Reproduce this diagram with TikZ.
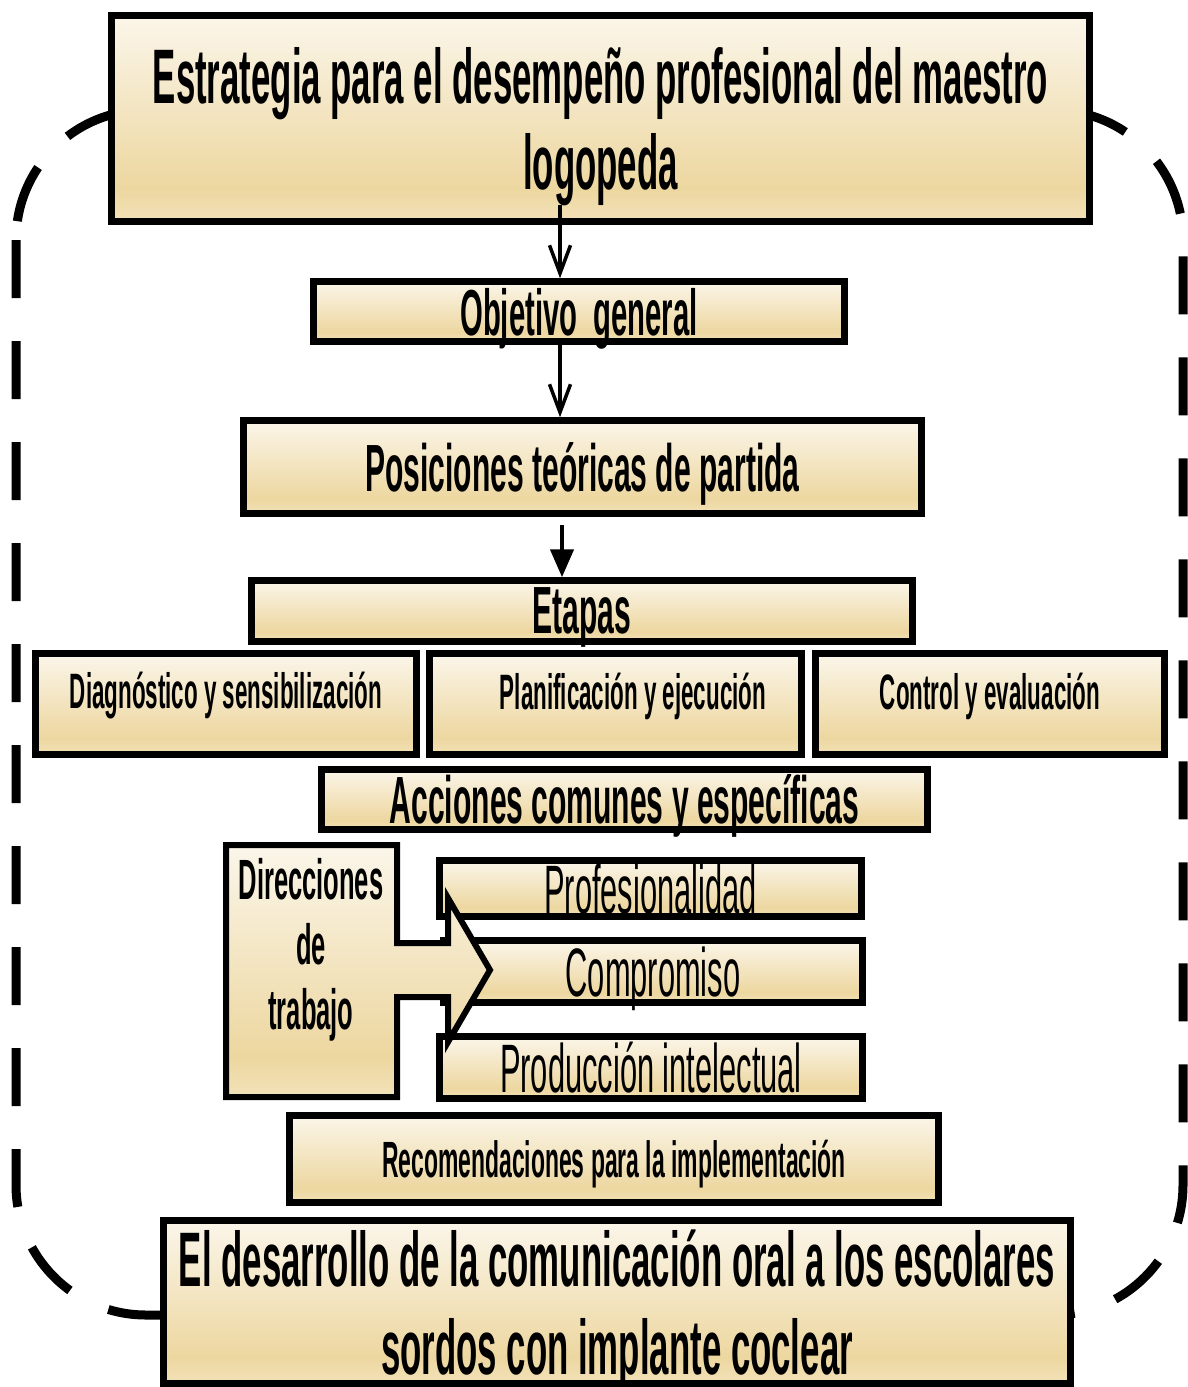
\documentclass[tikz,border=0pt]{standalone}
\usepackage{fontspec}
\setmainfont{Liberation Sans}[FakeStretch=0.45]
\usepackage{tikz}
\usetikzlibrary{arrows.meta}
\usepackage{xcolor}

\definecolor{tantop}{HTML}{FBF6EA}
\definecolor{tandark}{HTML}{EDD7A0}
\definecolor{tanlow}{HTML}{F2E2B9}
\pgfdeclareverticalshading{tanshade}{100bp}{color(0bp)=(tanlow); color(25bp)=(tanlow); color(33bp)=(tandark); color(75bp)=(tantop); color(100bp)=(tantop)}

\tikzset{
  box/.style={draw=black, line width=0.13cm, shade, shading=tanshade, inner sep=0pt, align=center, text depth=0pt},
  flow/.style={line width=0.07cm, -{Straight Barb[length=0.56cm,width=0.42cm]}},
  bigflow/.style={line width=0.09cm, -{Triangle[length=0.56cm,width=0.46cm]}},
  outerloop/.style={line width=0.18cm, dash pattern=on 1.16cm off 0.86cm, rounded corners=2.6cm}
}

\begin{document}
\begin{tikzpicture}
  \useasboundingbox (0,0) rectangle (23.76,-27.74);
  \draw[outerloop] (0.32,-2.2) rectangle (23.66,-26.3);

  \node[box, minimum width=19.56cm, minimum height=4.12cm, font=\fontsize{44}{49}\selectfont\bfseries] (title) at (12.01,-2.37) {Estrategia para el desempeño profesional del maestro\\logopeda};
  \node[box, minimum width=10.62cm, minimum height=1.2cm, font=\fontsize{37}{42}\selectfont\bfseries] (obj) at (11.58,-6.23) {Objetivo~~general};
  \node[box, minimum width=13.56cm, minimum height=1.86cm, font=\fontsize{38}{44}\selectfont\bfseries] (pos) at (11.65,-9.34) {Posiciones teóricas de partida};
  \node[box, minimum width=13.22cm, minimum height=1.22cm, font=\fontsize{38}{44}\selectfont\bfseries] (etapas) at (11.64,-12.22) {Etapas};
  \node[box, minimum width=7.62cm, minimum height=2.02cm,
    label={[yshift=0.16cm, font=\fontsize{28.3}{33}\selectfont\bfseries]center:Diagnóstico y sensibilización}] (diag) at (4.52,-14.08) {};
  \node[box, minimum width=7.44cm, minimum height=2.02cm,
    label={[xshift=0.35cm, yshift=0.16cm, font=\fontsize{28.3}{33}\selectfont\bfseries]center:Planificación y ejecución}] (plan) at (12.31,-14.08) {};
  \node[box, minimum width=6.98cm, minimum height=2.02cm,
    label={[yshift=0.16cm, font=\fontsize{28.3}{33}\selectfont\bfseries]center:Control y evaluación}] (ctrl) at (19.80,-14.08) {};
  \node[box, minimum width=12.12cm, minimum height=1.2cm, font=\fontsize{38}{44}\selectfont\bfseries] (acc) at (12.49,-15.99) {Acciones comunes y específicas};

  \node[box, minimum width=8.44cm, minimum height=1.12cm, font=\fontsize{39}{44}\selectfont] (prof) at (13.01,-17.77) {Profesionalidad};
  \node[box, minimum width=8.38cm, minimum height=1.24cm, font=\fontsize{39}{44}\selectfont] (comp) at (13.06,-19.43) {Compromiso};
  \node[box, minimum width=8.46cm, minimum height=1.24cm, font=\fontsize{39}{44}\selectfont] (prod) at (13.02,-21.35) {Producción intelectual};

  % callout with the arrow
  \draw[line width=0.12cm, shade, shading=tanshade, line join=miter]
    (4.52,-16.90) -- (7.94,-16.90) -- (7.94,-18.86) -- (8.96,-18.86) -- (8.96,-17.96)
    -- (9.80,-19.40) -- (8.96,-20.84) -- (8.96,-19.94) -- (7.94,-19.94) -- (7.94,-21.94)
    -- (4.52,-21.94) -- cycle;
  \node[align=center, font=\fontsize{32.3}{37}\selectfont\bfseries] (dirs) at (6.22,-19.0) {Direcciones\\de\\trabajo};

  \node[box, minimum width=12.98cm, minimum height=1.74cm, font=\fontsize{29}{34}\selectfont\bfseries] (recom) at (12.28,-23.18) {Recomendaciones para la implementación};
  \node[box, minimum width=18.14cm, minimum height=3.26cm, font=\fontsize{44}{50}\selectfont\bfseries] (final) at (12.34,-26.04) {El desarrollo de la comunicación oral a los escolares\\sordos con implante coclear};

  \coordinate (t1) at (11.2,-4.1);
  \coordinate (t3) at (11.24,-10.5);
  \draw[flow] (t1) -- (t1 |- obj.north);
  \draw[flow] (t1 |- obj.south) -- (t1 |- pos.north);
  \draw[bigflow] (t3) -- (t3 |- etapas.north);
\end{tikzpicture}
\end{document}
